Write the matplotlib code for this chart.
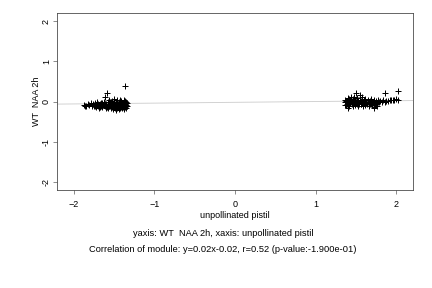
import numpy as np
import matplotlib
matplotlib.use("Agg")
import matplotlib.pyplot as plt

plt.rcParams["font.family"] = ["Liberation Sans", "DejaVu Sans"]

# left cluster (unpollinated pistil vs WT NAA 2h)
left_x = [-1.88, -1.86, -1.85, -1.83, -1.81, -1.79, -1.78, -1.76, -1.75, -1.74,
          -1.73, -1.72, -1.71, -1.70, -1.69, -1.68, -1.67, -1.66, -1.65, -1.64,
          -1.63, -1.62, -1.61, -1.60, -1.59, -1.59, -1.58, -1.57, -1.56, -1.56,
          -1.55, -1.54, -1.53, -1.53, -1.52, -1.51, -1.50, -1.50, -1.49, -1.48,
          -1.48, -1.47, -1.46, -1.46, -1.45, -1.44, -1.44, -1.43, -1.42, -1.42,
          -1.41, -1.40, -1.40, -1.39, -1.38, -1.38, -1.37, -1.37, -1.36, -1.36,
          -1.35, -1.35, -1.34, -1.34, -1.52, -1.47, -1.43, -1.39, -1.55, -1.61,
          -1.66, -1.70, -1.45, -1.41, -1.37, -1.50, -1.57, -1.63,
          -1.74, -1.71, -1.68, -1.65, -1.62, -1.58, -1.54, -1.51, -1.47, -1.44,
          -1.40, -1.36, -1.60, -1.53, -1.46, -1.39, -1.35, -1.49, -1.42, -1.56]
left_y = [-0.08, -0.11, -0.10, -0.05, -0.09, -0.03, -0.10, -0.07, -0.12, -0.04,
          -0.14, -0.08, -0.02, -0.11, -0.15, -0.06, -0.10, -0.03, -0.13, -0.08,
          0.00, -0.11, 0.12, -0.05, 0.20, -0.14, -0.02, -0.09, 0.03, -0.12,
          -0.06, -0.16, 0.01, -0.10, -0.04, -0.18, 0.06, -0.08, -0.13, 0.00,
          -0.20, -0.05, -0.15, 0.04, -0.10, -0.02, -0.18, 0.05, -0.07, -0.13,
          0.02, -0.16, -0.04, -0.10, 0.03, -0.19, 0.38, -0.06, -0.12, 0.01,
          -0.08, -0.15, -0.03, -0.10, -0.12, -0.09, -0.16, -0.07, -0.01, -0.07,
          -0.08, -0.05, -0.06, -0.11, -0.14, -0.02, -0.12, -0.04,
          -0.12, -0.06, -0.13, -0.04, -0.07, -0.15, -0.01, -0.12, -0.09, -0.07,
          -0.09, -0.05, -0.17, -0.14, -0.01, -0.13, -0.01, -0.16, -0.01, -0.09]

# right cluster
right_x = [1.36, 1.37, 1.37, 1.38, 1.39, 1.40, 1.40, 1.41, 1.42, 1.43,
           1.43, 1.44, 1.45, 1.45, 1.46, 1.47, 1.47, 1.48, 1.49, 1.50,
           1.50, 1.51, 1.52, 1.53, 1.53, 1.54, 1.55, 1.55, 1.56, 1.57,
           1.58, 1.58, 1.59, 1.60, 1.61, 1.62, 1.62, 1.63, 1.64, 1.65,
           1.66, 1.67, 1.68, 1.69, 1.70, 1.71, 1.72, 1.73, 1.73, 1.74,
           1.75, 1.76, 1.77, 1.78, 1.80, 1.82, 1.84, 1.86, 1.86, 1.88,
           1.90, 1.92, 1.94, 1.96, 1.98, 2.00, 2.03, 2.03, 1.41, 1.46,
           1.51, 1.56, 1.61, 1.66, 1.39, 1.44, 1.49, 1.54,
           1.38, 1.42, 1.48, 1.52, 1.57, 1.63, 1.68, 1.71, 1.75, 1.79]
right_y = [-0.02, 0.05, -0.08, 0.02, -0.05, -0.15, 0.08, 0.00, -0.10, 0.04,
           -0.04, 0.10, -0.07, 0.02, -0.12, 0.06, -0.02, 0.12, -0.08, 0.20,
           0.00, -0.05, 0.08, -0.10, 0.03, -0.03, 0.17, 0.05, -0.07, 0.01,
           0.10, -0.04, -0.10, 0.04, -0.02, 0.07, -0.08, 0.00, -0.05, 0.05,
           -0.12, 0.02, -0.03, 0.06, -0.09, 0.00, -0.13, -0.15, 0.04, -0.05,
           0.01, -0.10, 0.03, -0.02, 0.02, -0.01, 0.03, 0.20, 0.00, 0.02,
           0.01, 0.04, 0.03, 0.05, 0.04, 0.06, 0.25, 0.05, -0.06, -0.04,
           0.04, -0.01, -0.06, -0.02, 0.01, -0.02, 0.03, -0.06,
           -0.09, 0.06, -0.04, -0.01, -0.05, -0.03, -0.07, -0.04, -0.03, -0.01]

slope, intercept = 0.02, -0.02
xticks = [-2, -1, 0, 1, 2]
yticks = [-2, -1, 0, 1, 2]

fig = plt.figure(figsize=(6, 4), dpi=72)
ax = fig.add_axes([0.132, 0.34, 0.824, 0.615])

xs = np.array([-2.21, 2.21])
ax.plot(xs, slope * xs + intercept, color="#cfcfcf", lw=0.9, zorder=1)
ax.plot(left_x + right_x, left_y + right_y, "+", color="black",
        ms=6, mew=1.0, zorder=2)

ax.set_xlim(-2.21, 2.21)
ax.set_ylim(-2.2, 2.2)
ax.set_xticks(xticks)
ax.set_yticks(yticks)
ax.set_yticklabels([str(t) for t in yticks], rotation=90, va="center")
ax.tick_params(labelsize=9, length=4, width=0.6, color="#444444")
ax.tick_params(axis="x", pad=6)
ax.tick_params(axis="y", pad=2)
for s in ax.spines.values():
    s.set_linewidth(0.8)
    s.set_color("#444444")
ax.set_ylabel("WT  NAA 2h", fontsize=9, labelpad=1)
ax.set_xlabel("unpollinated pistil", fontsize=9, labelpad=2)

fig.text(223 / 432, 1 - 233 / 288, "yaxis: WT  NAA 2h, xaxis: unpollinated pistil",
         ha="center", va="center", fontsize=9.3)
fig.text(223 / 432, 1 - 250 / 288,
         "Correlation of module: y=0.02x-0.02, r=0.52 (p-value:-1.900e-01)",
         ha="center", va="center", fontsize=9.3)

fig.savefig("out.png", dpi=72)
